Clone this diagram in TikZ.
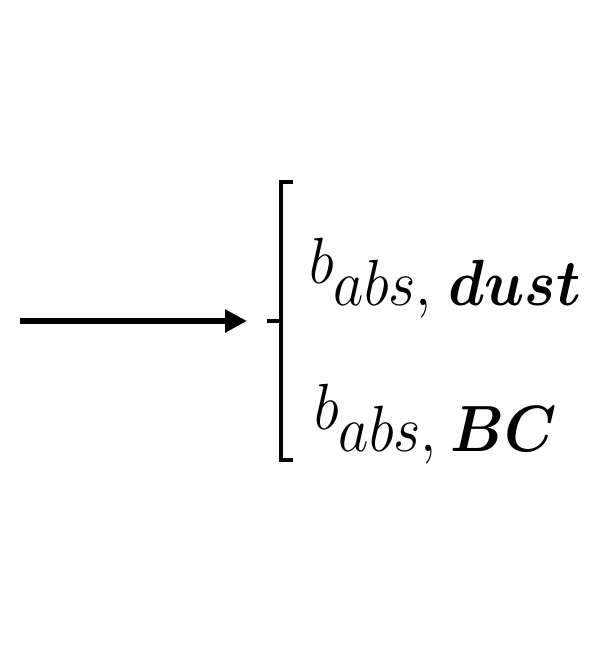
\documentclass[tikz,border=0pt]{standalone}
\usepackage{graphicx}
\usepackage{bm}
\usetikzlibrary{arrows.meta}
\tikzset{
  lbl/.style={anchor=base west, inner sep=0pt, font=\Huge},
  arr/.style={line width=4.5pt, -{Triangle[length=16.5pt,width=16.5pt]}},
  brk/.style={line width=3.6pt, line cap=butt, line join=miter}
}
\newcommand{\bigtxt}[1]{\scalebox{1.78}[1.97]{#1}}
\begin{document}
\begin{tikzpicture}[x=0.75pt,y=-0.75pt]
\useasboundingbox (0,0) rectangle (598,653);
\coordinate (start) at (20,321);
\coordinate (tip) at (247,321);
\coordinate (bt) at (293,182);
\coordinate (bb) at (293,460);
\coordinate (bm) at (281,321);
\coordinate (tick) at (267,321);
\draw[arr] (start) -- (tip);
\draw[brk] (bt) -- (281,182) -- (281,460) -- (bb);
\draw[brk] (tick) -- (bm);
\node[lbl] (dust) at (309,283) {\bigtxt{$b_{\textstyle abs,\mkern2mu\bm{dust}}$}};
\node[lbl] (bc) at (314,429) {\bigtxt{$b_{\textstyle abs,\mkern1mu\bm{BC}}$}};
\end{tikzpicture}
\end{document}
